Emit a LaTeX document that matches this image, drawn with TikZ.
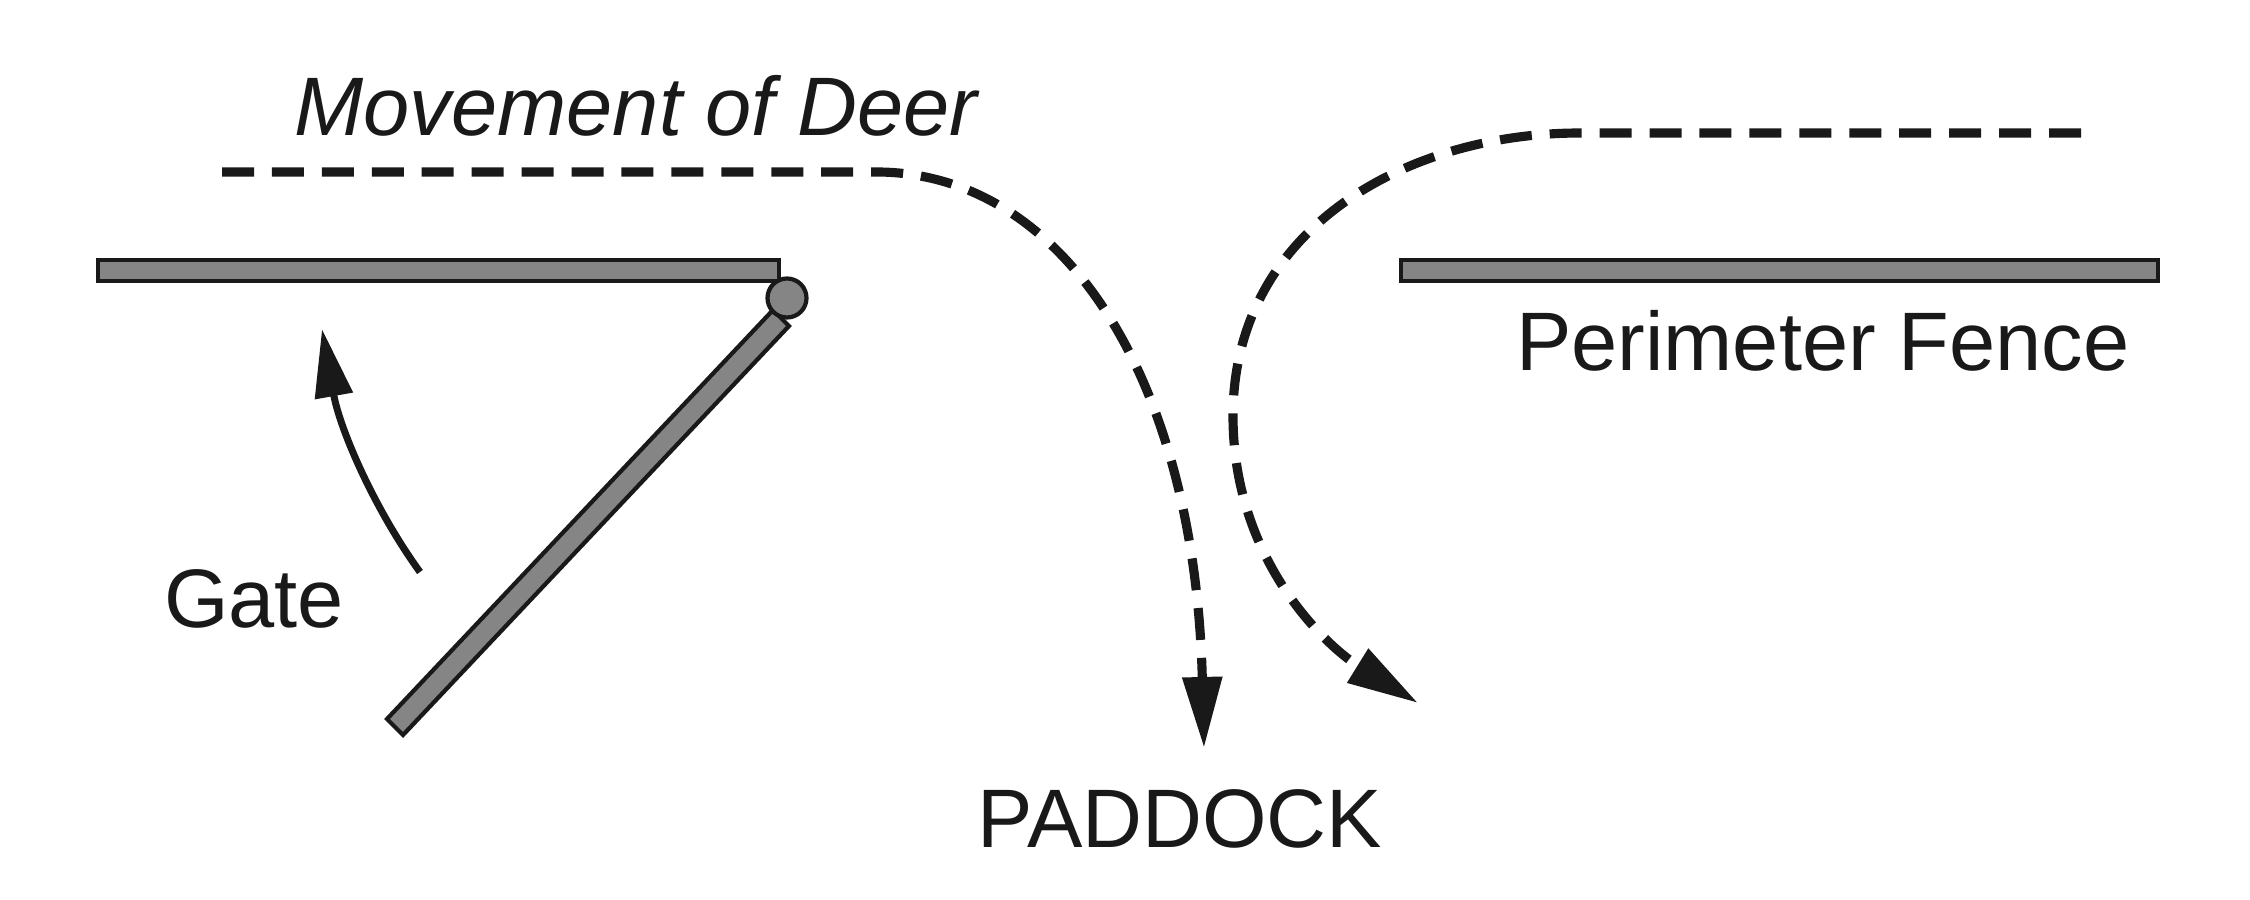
\documentclass[tikz,border=0pt]{standalone}
\usepackage{fontspec}
\setmainfont{Liberation Sans}
\usetikzlibrary{arrows.meta}
\definecolor{fencegray}{HTML}{858585}
\begin{document}
\begin{tikzpicture}[x=0.01cm,y=-0.01cm,
  fence/.style={draw=black!90, fill=fencegray, line width=1.2pt},
  deerpath/.style={draw=black!90, line width=2.6pt, dash pattern=on 9.1pt off 5.1pt, -{Triangle[length=0.71cm,width=0.38cm]}},
  txt/.style={text=black!90, font=\fontsize{23.6}{28}\selectfont, inner sep=0pt, anchor=base}]
\useasboundingbox (0,0) rectangle (2250,900);
% fences
\draw[fence] (98,260) rectangle (779,281);
\draw[fence] (1401,260) rectangle (2158,281);
% gate
\draw[fence] (773,310) -- (789,326) -- (403,735) -- (387,719) -- cycle;
\draw[fence] (787,298) circle (19.5);
% left deer path
\coordinate (l0) at (222,172);
\coordinate (l1) at (880,172);
\coordinate (l2) at (1204,748);
\draw[deerpath] (l0) -- (l1) .. controls (1065,175) and (1195,380) .. (l2);
% right deer path
\coordinate (r0) at (2081,133);
\coordinate (r1) at (1580,133);
\coordinate (r2) at (1233,416);
\coordinate (r3) at (1418,703);
\draw[deerpath] (r0) -- (r1) .. controls (1405,133) and (1233,230) .. (r2) .. controls (1233,560) and (1326,646) .. (r3);
% gate swing arrow
\coordinate (g0) at (420,572);
\coordinate (g1) at (322,329);
\draw[draw=black!90, line width=2pt, -{Triangle[length=0.68cm,width=0.37cm]}] (g0) .. controls (375,510) and (340,430) .. (g1);
% labels
\node[txt, font=\fontsize{23.6}{28}\selectfont\itshape] (mov) at (636,136) {Movement of Deer};
\node[txt] (gate) at (254,627) {Gate};
\node[txt] (fencelbl) at (1823,370) {Perimeter Fence};
\node[txt] (paddock) at (1180,847) {PADDOCK};
\end{tikzpicture}
\end{document}
